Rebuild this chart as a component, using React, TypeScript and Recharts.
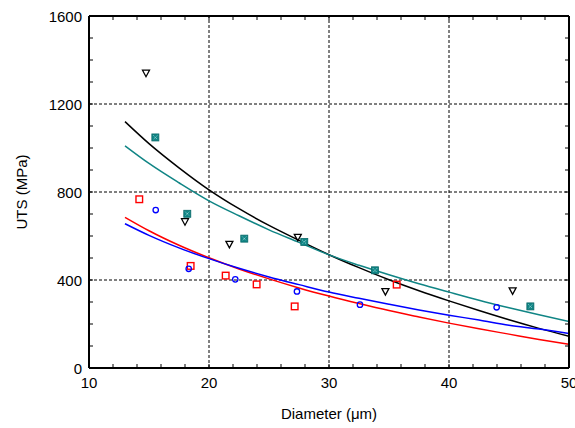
import React from 'react';
import { ComposedChart, Line, Scatter, XAxis, YAxis, ReferenceLine } from 'recharts';

// Fitted curves
const curveX = [13, 15, 17.5, 20, 22.5, 25, 27.5, 30, 32.5, 35, 37.5, 40, 42.5, 45, 47.5, 50];
const blackFit = [1120, 1020, 910, 810, 724, 648, 580, 515, 456, 401, 351, 305, 261, 219, 180, 144];
const tealFit = [1010, 930, 842, 760, 692, 628, 571, 514, 467, 424, 383, 345, 308, 274, 242, 211];
const redFit = [685, 624, 558, 501, 450, 405, 364, 327, 293, 261, 232, 204, 178, 154, 130, 108];
const blueFit = [656, 603, 546, 497, 453, 414, 379, 345, 317, 290, 264, 240, 218, 194, 177, 157];

// Measured points
const triX = [14.75, 18.0, 21.7, 27.4, 34.7, 45.3];
const triY = [1340, 665, 562, 594, 347, 351];
const tealX = [15.53, 18.19, 22.94, 27.94, 33.83, 46.78];
const tealY = [1048, 701, 588, 573, 444, 280];
const redX = [14.19, 18.47, 21.39, 23.97, 27.14, 35.64];
const redY = [767, 464, 420, 380, 280, 379];
const blueX = [15.56, 18.31, 22.19, 27.33, 32.58, 43.97];
const blueY = [718, 451, 403, 348, 288, 276];

// Axes
const xTicks = [10, 12, 14, 16, 18, 20, 22, 24, 26, 28, 30, 32, 34, 36, 38, 40, 42, 44, 46, 48, 50];
const xLabels = [10, 20, 30, 40, 50];
const yTicks = [0, 100, 200, 300, 400, 500, 600, 700, 800, 900, 1000, 1100, 1200, 1300, 1400, 1500, 1600];
const yLabels = [0, 400, 800, 1200, 1600];
const gridX = [20, 30, 40];
const gridY = [400, 800, 1200];

const curveData = curveX.map((x, i) => ({ x, black: blackFit[i], teal: tealFit[i], red: redFit[i], blue: blueFit[i] }));
const toPts = (xs: number[], ys: number[]) => xs.map((x, i) => ({ x, y: ys[i] }));
const triData = toPts(triX, triY);
const tealData = toPts(tealX, tealY);
const redData = toPts(redX, redY);
const blueData = toPts(blueX, blueY);

const FONT = 'Arial, "Liberation Sans", Helvetica, sans-serif';
const TEAL = '#108585';

const BottomTick = (p: any) => {
  const { x, y, payload } = p;
  const v = payload.value;
  return (
    <g>
      <line x1={x} y1={y} x2={x} y2={y - 4} stroke="#000" strokeWidth={1} />
      {xLabels.includes(v) && (
        <text x={x} y={y + 20} textAnchor="middle" fontSize={15} fontFamily={FONT} fill="#000">{v}</text>
      )}
    </g>
  );
};
const TopTick = (p: any) => {
  const { x, y } = p;
  return <line x1={x} y1={y} x2={x} y2={y + 4} stroke="#000" strokeWidth={1} />;
};
const LeftTick = (p: any) => {
  const { x, y, payload } = p;
  const v = payload.value;
  return (
    <g>
      <line x1={x} y1={y} x2={x + 4} y2={y} stroke="#000" strokeWidth={1} />
      {yLabels.includes(v) && (
        <text x={x - 7} y={y + 5.5} textAnchor="end" fontSize={15} fontFamily={FONT} fill="#000">{v}</text>
      )}
    </g>
  );
};
const RightTick = (p: any) => {
  const { x, y } = p;
  return <line x1={x} y1={y} x2={x - 4} y2={y} stroke="#000" strokeWidth={1} />;
};

const Tri = (p: any) => {
  const { cx, cy } = p;
  return (
    <path
      d={`M${cx - 3.5},${cy - 3}L${cx + 3.5},${cy - 3}L${cx},${cy + 3.5}Z`}
      fill="none"
      stroke="#000"
      strokeWidth={1.3}
    />
  );
};
const TealSq = (p: any) => {
  const { cx, cy } = p;
  return (
    <g>
      <rect x={cx - 3.5} y={cy - 3.5} width={7} height={7} fill={TEAL} stroke="#0a6a6a" strokeWidth={0.8} />
      <path
        d={`M${cx - 2},${cy - 2}L${cx + 2},${cy + 2}M${cx + 2},${cy - 2}L${cx - 2},${cy + 2}`}
        stroke="#c8eeee"
        strokeWidth={0.8}
        strokeDasharray="1 1"
      />
    </g>
  );
};
const RedSq = (p: any) => {
  const { cx, cy } = p;
  return <rect x={cx - 3.3} y={cy - 3.3} width={6.6} height={6.6} fill="none" stroke="#ff0000" strokeWidth={1.4} />;
};
const BlueCirc = (p: any) => {
  const { cx, cy } = p;
  return <circle cx={cx} cy={cy} r={2.7} fill="none" stroke="#0000ff" strokeWidth={1.3} />;
};

export default function App() {
  return (
    <div style={{ position: 'absolute', left: 0, top: 0, background: '#fff' }}>
      <ComposedChart
        width={575}
        height={428}
        data={curveData}
        margin={{ top: 15, right: 5, bottom: 30, left: 29 }}
      >
        <XAxis
          dataKey="x"
          type="number"
          domain={[10, 50]}
          allowDataOverflow
          ticks={xTicks}
          interval={0}
          height={30}
          tickSize={0}
          tickMargin={0}
          tickLine={false}
          axisLine={{ stroke: '#000', strokeWidth: 2 }}
          tick={<BottomTick />}
        />
        <XAxis
          xAxisId="top"
          orientation="top"
          dataKey="x"
          type="number"
          domain={[10, 50]}
          allowDataOverflow
          ticks={xTicks}
          interval={0}
          height={1}
          tickSize={0}
          tickMargin={0}
          tickLine={false}
          axisLine={{ stroke: '#000', strokeWidth: 2 }}
          tick={<TopTick />}
        />
        <YAxis
          type="number"
          domain={[0, 1600]}
          allowDataOverflow
          ticks={yTicks}
          interval={0}
          width={60}
          tickSize={0}
          tickMargin={0}
          tickLine={false}
          axisLine={{ stroke: '#000', strokeWidth: 2 }}
          tick={<LeftTick />}
        />
        <YAxis
          yAxisId="right"
          orientation="right"
          type="number"
          domain={[0, 1600]}
          allowDataOverflow
          ticks={yTicks}
          interval={0}
          width={1}
          tickSize={0}
          tickMargin={0}
          tickLine={false}
          axisLine={{ stroke: '#000', strokeWidth: 2 }}
          tick={<RightTick />}
        />
        {gridX.map((g) => (
          <ReferenceLine key={'gx' + g} x={g} stroke="#000" strokeWidth={1} strokeDasharray="3 2" />
        ))}
        {gridY.map((g) => (
          <ReferenceLine key={'gy' + g} y={g} stroke="#000" strokeWidth={1} strokeDasharray="3 2" />
        ))}
        <Line dataKey="black" type="monotone" stroke="#000" strokeWidth={1.5} dot={false} isAnimationActive={false} />
        <Line dataKey="teal" type="monotone" stroke={TEAL} strokeWidth={1.5} dot={false} isAnimationActive={false} />
        <Line dataKey="red" type="monotone" stroke="#ff0000" strokeWidth={1.5} dot={false} isAnimationActive={false} />
        <Line dataKey="blue" type="monotone" stroke="#0000ff" strokeWidth={1.5} dot={false} isAnimationActive={false} />
        <Scatter data={triData} dataKey="y" shape={<Tri />} isAnimationActive={false} />
        <Scatter data={tealData} dataKey="y" shape={<TealSq />} isAnimationActive={false} />
        <Scatter data={redData} dataKey="y" shape={<RedSq />} isAnimationActive={false} />
        <Scatter data={blueData} dataKey="y" shape={<BlueCirc />} isAnimationActive={false} />
        <text x={329} y={419} textAnchor="middle" fontSize={15} fontFamily={FONT} fill="#000">Diameter (μm)</text>
        <text x={27} y={192} transform="rotate(-90 27 192)" textAnchor="middle" fontSize={15} fontFamily={FONT} fill="#000">UTS (MPa)</text>
      </ComposedChart>
    </div>
  );
}
